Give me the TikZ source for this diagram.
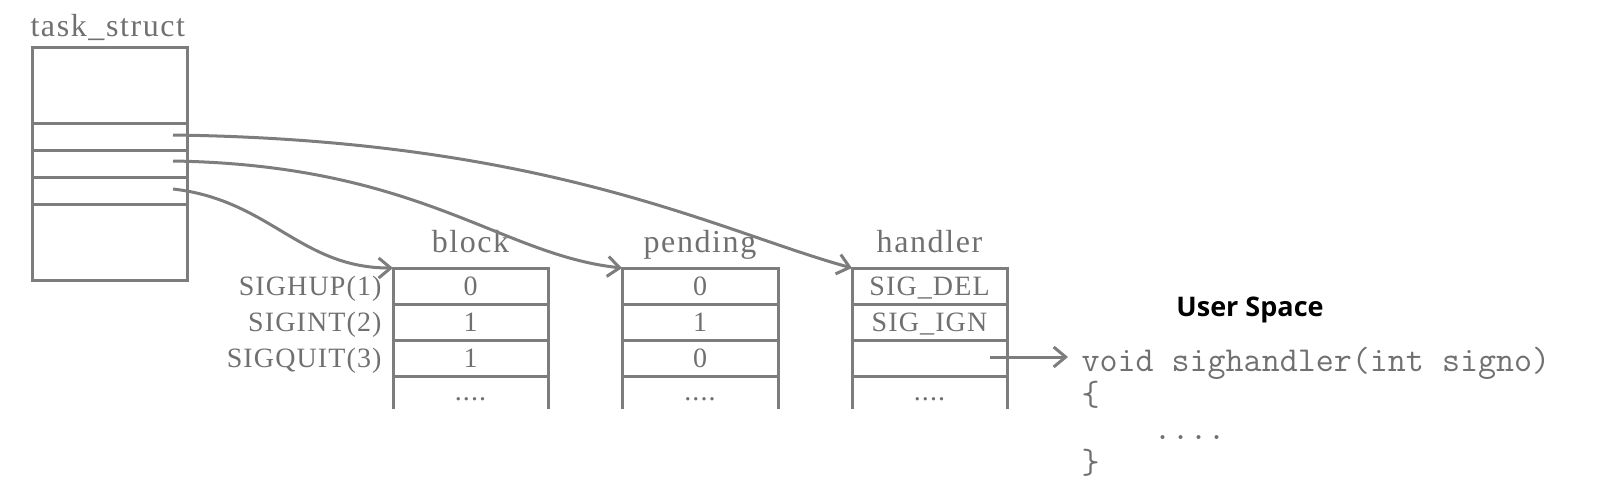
\documentclass[tikz,border=0pt]{standalone}
\usepackage{fontspec}
\setmainfont{Liberation Serif}
\newfontfamily\hdrfont[LetterSpace=5]{Liberation Serif}
\newfontfamily\sigfont[LetterSpace=4]{Liberation Serif}
\newfontfamily\usfont{Open Sans}
\usetikzlibrary{arrows.meta}
\definecolor{ln}{RGB}{125,125,125}
\definecolor{tx}{RGB}{112,112,112}
\begin{document}
\begin{tikzpicture}[x=0.5pt,y=-0.5pt,line width=1.5pt,
  hdr/.style={font=\hdrfont\fontsize{16}{18}\selectfont,text=tx,inner sep=0pt,anchor=base},
  signame/.style={font=\sigfont\fontsize{14}{16}\selectfont,text=tx,inner sep=0pt,anchor=base east},
  cell/.style={draw=ln,minimum height=18pt,inner sep=0pt,outer sep=0pt,
    text height=9.5pt,text depth=0pt,text=tx,font=\sigfont\fontsize{14}{16}\selectfont},
  bw/.style={minimum width=77.5pt},
  pw/.style={minimum width=78pt},
  opencell/.style={minimum height=16.5pt,inner sep=0pt,outer sep=0pt},
  dots/.style={font=\sigfont\fontsize{14}{16}\selectfont,text=tx,inner sep=0pt,anchor=base},
  conn/.style={draw=ln,line width=1.5pt,-{Straight Barb[length=6pt,width=10pt,line width=1.5pt]}},
  code/.style={font=\ttfamily\fontsize{17.5}{17.5}\selectfont,text=tx,inner sep=0pt,anchor=base west}
]
\useasboundingbox (0,0) rectangle (1620,492);

% task_struct
\node[hdr,anchor=base west] (tsl) at (29,37) {task\_struct};
\node[draw=ln,minimum width=77.5pt,minimum height=116pt,inner sep=0pt] (ts) at (109.5,164) {};
\draw[ln] (32,123) -- (187,123);
\draw[ln] (32,150) -- (187,150);
\draw[ln] (32,177) -- (187,177);
\draw[ln] (32,204) -- (187,204);
\coordinate (s1) at (173,135);
\coordinate (s2) at (173,161);
\coordinate (s3) at (173,189);

% headers
\node[hdr] (hb) at (470.5,252) {block};
\node[hdr] (hp) at (700,252) {pending};
\node[hdr] (hh) at (929.5,252) {handler};

% signal names
\node[signame] (n1) at (383,295) {SIGHUP(1)};
\node[signame] (n2) at (383,331) {SIGINT(2)};
\node[signame] (n3) at (383,367) {SIGQUIT(3)};

% block
\node[cell,bw] (b1) at (470.5,286) {0};
\node[cell,bw] (b2) at (470.5,322) {1};
\node[cell,bw] (b3) at (470.5,358) {1};
\node[opencell,bw] (b4) at (470.5,392.5) {};
\draw[ln] (b4.north west) -- (b4.south west) (b4.north east) -- (b4.south east);
\node[dots] (b4d) at (470.5,400) {....};

% pending
\node[cell,pw] (p1) at (700,286) {0};
\node[cell,pw] (p2) at (700,322) {1};
\node[cell,pw] (p3) at (700,358) {0};
\node[opencell,pw] (p4) at (700,392.5) {};
\draw[ln] (p4.north west) -- (p4.south west) (p4.north east) -- (p4.south east);
\node[dots] (p4d) at (700,400) {....};

% handler
\node[cell,bw] (h1) at (929.5,286) {SIG\_DEL};
\node[cell,bw] (h2) at (929.5,322) {SIG\_IGN};
\node[cell,bw] (h3) at (929.5,358) {};
\node[opencell,bw] (h4) at (929.5,392.5) {};
\draw[ln] (h4.north west) -- (h4.south west) (h4.north east) -- (h4.south east);
\node[dots] (h4d) at (929.5,400) {....};
\coordinate (hs) at (990,357);

% user space
\node[font=\usfont\bfseries\fontsize{13.5}{15}\selectfont,text=black,inner sep=0pt,anchor=base] (us) at (1250,316) {User Space};
\node[code] (c1) at (1080,371) {void sighandler(int signo)};
\node[code] (c2) at (1080,405) {\{};
\node[code] (c3) at (1080,439) {\hphantom{xxxx}....};
\node[code] (c4) at (1080,473) {\}};

% connectors
\draw[conn] (s3) .. controls (270,200) and (300,268) .. (b1.north west);
\draw[conn] (s2) .. controls (420,165) and (500,255) .. (p1.north west);
\draw[conn] (s1) .. controls (550,140) and (720,232) .. (h1.north west);
\draw[conn] (hs) -- ([xshift=-6pt]c1.west |- hs);
\end{tikzpicture}
\end{document}
